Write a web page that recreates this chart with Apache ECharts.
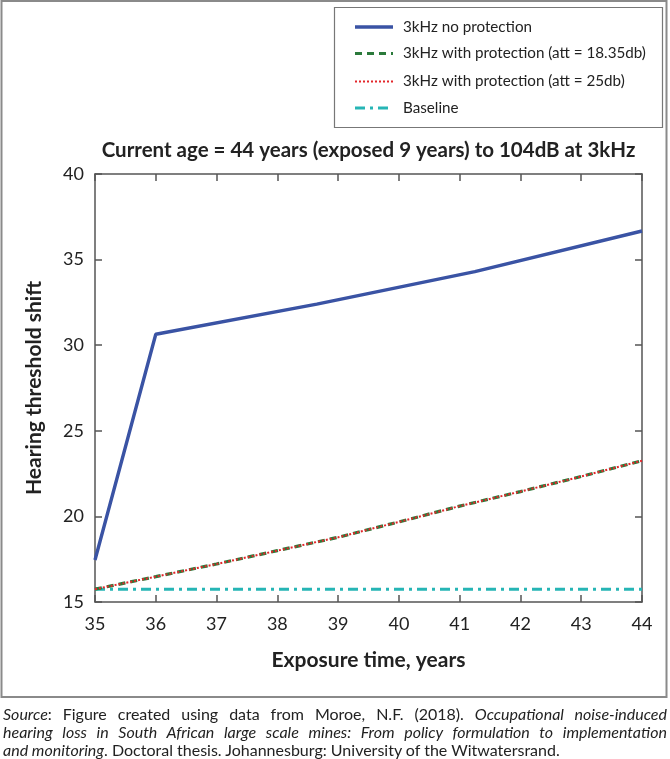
<!DOCTYPE html>
<html>
<head>
<meta charset="utf-8">
<script src="https://cdn.jsdelivr.net/npm/echarts@6/dist/echarts.min.js"></script>
<style>
html,body{margin:0;padding:0;background:#fff;}
#wrap{position:relative;width:670px;height:759px;}
#chart{position:absolute;left:0;top:0;width:670px;height:759px;}
#src{position:absolute;left:3px;top:705px;width:664px;font-family:Lato,"Open Sans",sans-serif;font-size:16px;line-height:18px;color:#222;}
#src div{text-align:justify;text-align-last:justify;white-space:nowrap;}
#src div.last{text-align-last:left;}
</style>
</head>
<body>
<div id="wrap">
<div id="chart"></div>
<div id="src">
<div><i>Source</i>: Figure created using data from Moroe, N.F. (2018). <i>Occupational noise-induced</i></div>
<div><i>hearing loss in South African large scale mines: From policy formulation to implementation</i></div>
<div class="last"><i>and monitoring</i>. Doctoral thesis. Johannesburg: University of the Witwatersrand.</div>
</div>
</div>
<script>
// ---- data ----
const seriesNames = ['3kHz no protection', '3kHz with protection (att = 18.35db)', '3kHz with protection (att = 25db)', 'Baseline'];
const xNoProt = [35, 36, 38.65, 41.25, 44];
const yNoProt = [17.45, 30.64, 32.4, 34.3, 36.67];
const xProt = [35, 36, 37, 38, 39, 40, 41, 42, 43, 44];
const yProt18 = [15.75, 16.48, 17.22, 18.0, 18.78, 19.68, 20.6, 21.45, 22.33, 23.25];
const yProt25 = [15.75, 16.48, 17.22, 18.0, 18.78, 19.68, 20.6, 21.45, 22.33, 23.25];
const xBase = [35, 44];
const yBase = [15.75, 15.75];
const xTicks = [35, 36, 37, 38, 39, 40, 41, 42, 43, 44];
const yTicks = [15, 20, 25, 30, 35, 40];
const titleText = 'Current age = 44 years (exposed 9 years) to 104dB at 3kHz';
const xName = 'Exposure time, years';
const yName = 'Hearing threshold shift';

const zip = (xs, ys) => xs.map((x, i) => [x, ys[i]]);
const FONT = 'Lato, "Open Sans", sans-serif';
const axisCol = '#555';

const styles = [
  {color: '#3a53a4', width: 3.4, type: 'solid', dash: null},
  {color: '#2b7a3b', width: 3.2, type: [7, 5], dash: [7, 5]},
  {color: '#e3262b', width: 2, type: [2, 2], dash: [2, 2]},
  {color: '#26b5b5', width: 3, type: [10, 5, 3, 5], dash: [10, 5, 3, 5]}
];

// manual legend (drawn from the series names/styles)
const legendRows = [27, 53.5, 81.5, 108];
const legendGraphics = [];
seriesNames.forEach((n, i) => {
  legendGraphics.push({type: 'line', shape: {x1: 355, y1: legendRows[i], x2: 393, y2: legendRows[i]},
    style: {stroke: styles[i].color, lineWidth: styles[i].width, lineDash: styles[i].dash}, silent: true, z: 10});
  legendGraphics.push({type: 'text', style: {text: n, x: 403, y: legendRows[i], verticalAlign: 'middle',
    fontFamily: FONT, fontSize: 15.2, fill: '#222'}, silent: true, z: 10});
});

const chart = echarts.init(document.getElementById('chart'), null, {renderer: 'canvas'});
const baseAxis = {
  type: 'value',
  axisLine: {show: true, lineStyle: {color: axisCol, width: 1.5}},
  axisTick: {show: true, inside: true, length: 7, lineStyle: {color: axisCol, width: 1.5}},
  splitLine: {show: false}
};
chart.setOption({
  animation: false,
  backgroundColor: '#fff',
  grid: {left: 95, right: 28, top: 174, bottom: 157, containLabel: false},
  xAxis: [
    Object.assign({}, baseAxis, {
      position: 'bottom', min: xTicks[0], max: xTicks[xTicks.length - 1], interval: 1,
      axisLabel: {fontFamily: FONT, fontSize: 18, color: '#222', margin: 13},
      name: xName, nameLocation: 'middle', nameGap: 48,
      nameTextStyle: {fontFamily: FONT, fontSize: 21, fontWeight: 'bold', color: '#222'}
    }),
    Object.assign({}, baseAxis, {
      position: 'top', min: xTicks[0], max: xTicks[xTicks.length - 1], interval: 1,
      axisLabel: {show: false}
    })
  ],
  yAxis: [
    Object.assign({}, baseAxis, {
      position: 'left', min: yTicks[0], max: yTicks[yTicks.length - 1], interval: 5,
      axisLabel: {fontFamily: FONT, fontSize: 18, color: '#222', margin: 11},
      name: yName, nameLocation: 'middle', nameGap: 50,
      nameTextStyle: {fontFamily: FONT, fontSize: 21, fontWeight: 'bold', color: '#222'}
    }),
    Object.assign({}, baseAxis, {
      position: 'right', min: yTicks[0], max: yTicks[yTicks.length - 1], interval: 5,
      axisLabel: {show: false}
    })
  ],
  graphic: [
    {type: 'rect', shape: {x: 1.5, y: 1, width: 665, height: 696}, style: {fill: 'none', stroke: '#8a8a8a', lineWidth: 2}, silent: true, z: 0},
    {type: 'rect', shape: {x: 334.5, y: 7.5, width: 328, height: 120}, style: {fill: 'none', stroke: '#777', lineWidth: 1.2}, silent: true, z: 0},
    {type: 'text', style: {text: titleText, x: 368.5, y: 150, align: 'center', verticalAlign: 'middle', fontFamily: FONT, fontSize: 20.5, fontWeight: 'bold', fill: '#222'}, z: 10}
  ].concat(legendGraphics),
  series: seriesNames.map((n, i) => ({
    name: n, type: 'line', symbol: 'none', z: [5, 3, 4, 2][i],
    data: [zip(xNoProt, yNoProt), zip(xProt, yProt18), zip(xProt, yProt25), zip(xBase, yBase)][i],
    lineStyle: {color: styles[i].color, width: styles[i].width, type: styles[i].type},
    itemStyle: {color: styles[i].color}
  }))
});
</script>
</body>
</html>
